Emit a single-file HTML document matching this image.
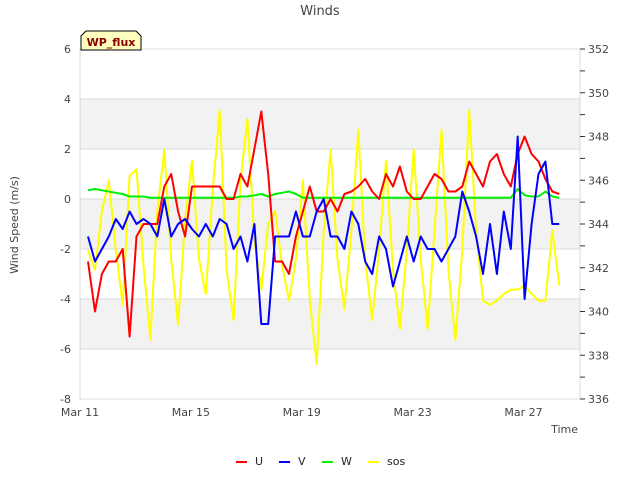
<!DOCTYPE html>
<html><head><meta charset="utf-8"><style>
body{margin:0;background:#fff;font-family:"Liberation Sans","DejaVu Sans",sans-serif;}
svg text{font-family:"DejaVu Sans","Liberation Sans",sans-serif;}
</style></head><body>
<svg id="chart" width="640" height="480" xmlns="http://www.w3.org/2000/svg">
<g id="bands"></g>
<rect x="80" y="49" width="500" height="350" fill="none" stroke="#d8d8d8"/>
<g id="grid"></g><g id="axes"></g><g id="series"></g>
<text x="320" y="15" text-anchor="middle" font-size="13" fill="#444">Winds</text>
<text x="18" y="225" text-anchor="middle" font-size="11" fill="#444" transform="rotate(-90 18 225)">Wind Speed (m/s)</text>
<text x="578" y="433" text-anchor="end" font-size="11" fill="#444">Time</text>
<g>
<path d="M86,31 L136,31 L141,36 L141,50 L81,50 L81,36 Z" fill="#ffffc0" stroke="#000"/>
<text x="111" y="46" text-anchor="middle" font-size="11" font-weight="bold" fill="#8b0000">WP_flux</text>
</g>
<g id="legend"></g>
</svg>
<script>
const days=["Mar 11","Mar 15","Mar 19","Mar 23","Mar 27"];
const leftTicks=[6,4,2,0,-2,-4,-6,-8];
const rightTicks=[352,350,348,346,344,342,340,338,336];
const startDay=0.29, stepDay=0.25;
const uVals=[-2.5,-4.5,-3,-2.5,-2.5,-2,-5.5,-1.5,-1,-1,-1,0.5,1,-0.5,-1.5,0.5,0.5,0.5,0.5,0.5,0,0,1,0.5,2,3.5,1,-2.5,-2.5,-3,-1.5,-0.5,0.5,-0.5,-0.5,0,-0.5,0.2,0.3,0.5,0.8,0.3,0,1,0.5,1.3,0.3,0,0,0.5,1,0.8,0.3,0.3,0.5,1.5,1,0.5,1.5,1.8,1,0.5,1.8,2.5,1.8,1.5,0.8,0.3,0.2];
const vVals=[-1.5,-2.5,-2,-1.5,-0.8,-1.2,-0.5,-1,-0.8,-1,-1.5,0,-1.5,-1,-0.8,-1.2,-1.5,-1,-1.5,-0.8,-1,-2,-1.5,-2.5,-1,-5,-5,-1.5,-1.5,-1.5,-0.5,-1.5,-1.5,-0.5,0,-1.5,-1.5,-2,-0.5,-1,-2.5,-3,-1.5,-2,-3.5,-2.5,-1.5,-2.5,-1.5,-2,-2,-2.5,-2,-1.5,0.3,-0.5,-1.5,-3,-1,-3,-0.5,-2,2.5,-4,-1,1,1.5,-1,-1];
const wVals=[0.35,0.4,0.35,0.3,0.25,0.2,0.1,0.1,0.1,0.05,0.05,0.05,0.05,0.05,0.05,0.05,0.05,0.05,0.05,0.05,0.05,0.05,0.1,0.1,0.15,0.2,0.1,0.2,0.25,0.3,0.2,0.05,0.05,0.05,0.05,0.05,0.05,0.05,0.05,0.05,0.05,0.05,0.05,0.05,0.05,0.05,0.05,0.05,0.05,0.05,0.05,0.05,0.05,0.05,0.05,0.05,0.05,0.05,0.05,0.05,0.05,0.05,0.4,0.15,0.1,0.1,0.3,0.1,0.05];
const sosVals=[342.8,341.9,344.6,346.0,342.8,340.3,346.2,346.5,342.1,338.7,344.6,347.4,342.4,339.4,344.2,346.9,342.4,340.8,345.6,349.2,341.9,339.6,346.0,348.8,343.3,341.0,344.0,344.6,342.1,340.5,342.4,346.0,340.5,337.6,343.7,347.4,342.4,340.1,343.7,348.3,342.4,339.6,342.8,346.9,341.9,339.2,342.8,347.4,342.4,339.2,343.7,348.3,341.9,338.7,342.8,349.2,343.7,340.5,340.3,340.5,340.8,341.0,341.0,341.2,340.8,340.5,340.5,343.7,341.2];
const NS="http://www.w3.org/2000/svg";
const xS=d=>80+d*27.72;
const yL=v=>49+(6-v)*25;
const yR=v=>49+(352-v)*21.875;
function mk(tag,attrs,parent,txt){const e=document.createElementNS(NS,tag);for(const k in attrs)e.setAttribute(k,attrs[k]);if(txt!==undefined)e.textContent=txt;document.getElementById(parent).appendChild(e);return e;}
[[4,2],[0,-2],[-4,-6]].forEach(b=>{const r=mk('rect',{x:80,y:yL(b[0]),width:500,height:yL(b[1])-yL(b[0]),fill:'#f2f2f2'},'bands');

});
leftTicks.forEach(v=>{const l=mk('line',{x1:80,x2:580,y1:yL(v),y2:yL(v),stroke:'#dcdcdc'},'grid');


const t=mk('text',{x:71,y:yL(v)+4,'text-anchor':'end','font-size':11,fill:'#444'},'axes',String(v));

});
for(let v=336;v<=352;v++){const l=mk('line',{x1:580,x2:585,y1:yR(v),y2:yR(v),stroke:'#333'},'axes');

}
rightTicks.forEach(v=>{const t=mk('text',{x:588,y:yR(v)+4,'font-size':11,fill:'#444'},'axes',String(v));

});
days.forEach((d,i)=>{const t=mk('text',{x:xS(i*4),y:416,'text-anchor':'middle','font-size':11,fill:'#444'},'axes',d);

});
function line(vals,sc,color,name){const pts=vals.map((v,i)=>xS(startDay+i*stepDay).toFixed(1)+','+sc(v).toFixed(1)).join(' ');
const p=mk('polyline',{points:pts,fill:'none',stroke:color,'stroke-width':2,'stroke-linejoin':'round'},'series');

}
line(sosVals,yR,'#ffff00','series-sos');
line(wVals,yL,'#00ee00','series-w');
line(uVals,yL,'#ff0000','series-u');
line(vVals,yL,'#0000ff','series-v');
[['U','#ff0000',236],['V','#0000ff',279],['W','#00ee00',322],['sos','#ffff00',368]].forEach(e=>{
const g=mk('g',{},'legend');


const l=document.createElementNS(NS,'line');l.setAttribute('x1',e[2]);l.setAttribute('x2',e[2]+11);l.setAttribute('y1',462);l.setAttribute('y2',462);l.setAttribute('stroke',e[1]);l.setAttribute('stroke-width',2);g.appendChild(l);
const t=document.createElementNS(NS,'text');t.setAttribute('x',e[2]+19);t.setAttribute('y',465);t.setAttribute('font-size',11);t.setAttribute('fill','#222');t.textContent=e[0];g.appendChild(t);});
</script>
</body></html>
